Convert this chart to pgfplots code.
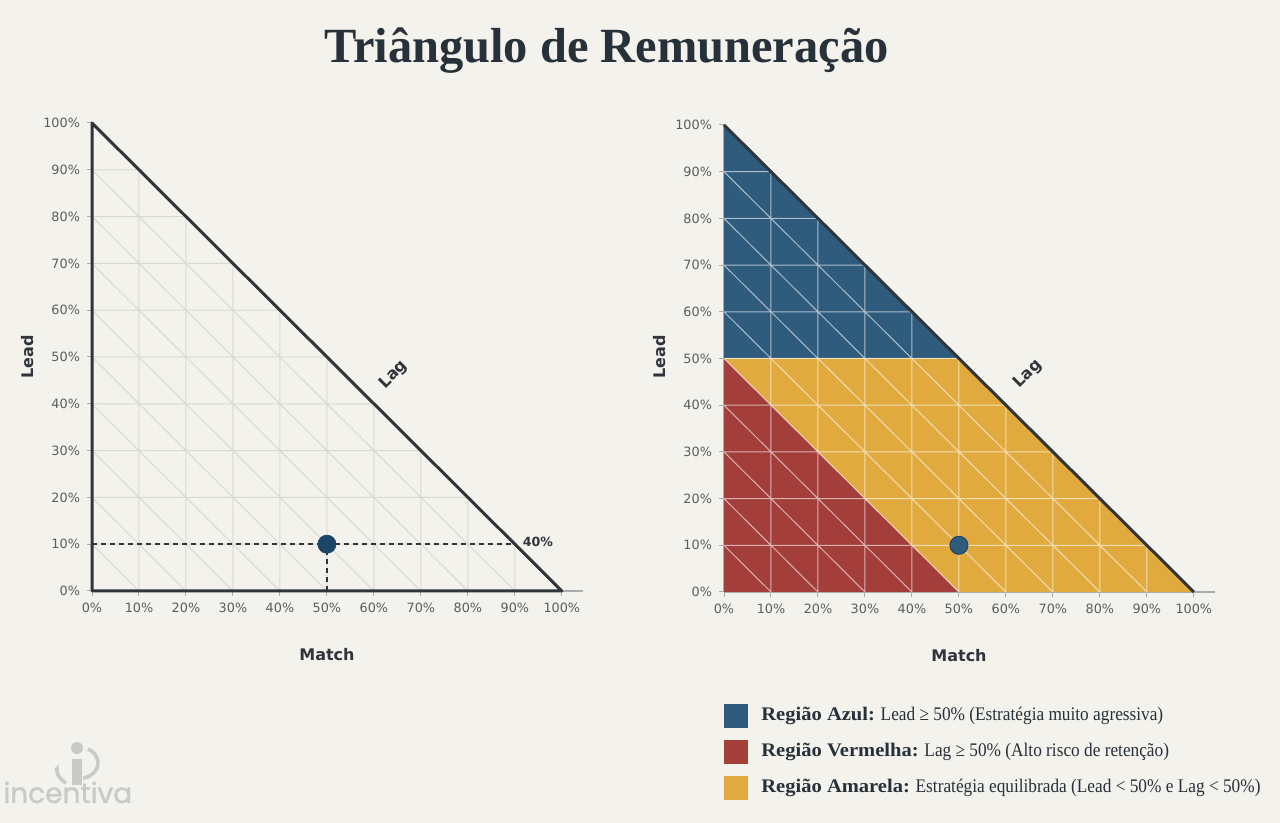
\documentclass[border=0pt]{standalone}
\usepackage{pgfplots}
\pgfplotsset{compat=1.18}
\usepackage{pgfplotstable}
\usetikzlibrary{arrows.meta}
\usepackage{fontspec}
\setmainfont{Liberation Serif}
\newfontfamily\sansf{DejaVu Sans}
\newfontfamily\logof[FakeBold=1.2]{Poppins}
\newfontfamily\titlef[FakeStretch=0.985]{Liberation Serif}
\newfontfamily\legreg[FakeStretch=0.9]{Liberation Serif}
\newfontfamily\legbold[FakeStretch=1.07]{Liberation Serif}
\definecolor{bg}{HTML}{F3F2EC}
\definecolor{darkline}{HTML}{2F353B}
\definecolor{gridgray}{HTML}{D9D9D3}
\definecolor{axisgray}{HTML}{A9ABAD}
\definecolor{tickgray}{HTML}{5A5E62}
\definecolor{azul}{HTML}{2F5B7C}
\definecolor{vermelho}{HTML}{A33E3B}
\definecolor{amarelo}{HTML}{E1AA3F}
\definecolor{dotc}{HTML}{1D4567}
\definecolor{titlec}{HTML}{27313A}
\definecolor{logoc}{HTML}{C9C9C6}

\pgfplotstableread[row sep=\\]{
x y\\
0 10\\ 90 10\\ nan nan\\
0 20\\ 80 20\\ nan nan\\
0 30\\ 70 30\\ nan nan\\
0 40\\ 60 40\\ nan nan\\
0 50\\ 50 50\\ nan nan\\
0 60\\ 40 60\\ nan nan\\
0 70\\ 30 70\\ nan nan\\
0 80\\ 20 80\\ nan nan\\
0 90\\ 10 90\\ nan nan\\
10 0\\ 10 90\\ nan nan\\
20 0\\ 20 80\\ nan nan\\
30 0\\ 30 70\\ nan nan\\
40 0\\ 40 60\\ nan nan\\
50 0\\ 50 50\\ nan nan\\
60 0\\ 60 40\\ nan nan\\
70 0\\ 70 30\\ nan nan\\
80 0\\ 80 20\\ nan nan\\
90 0\\ 90 10\\ nan nan\\
0 10\\ 10 0\\ nan nan\\
0 20\\ 20 0\\ nan nan\\
0 30\\ 30 0\\ nan nan\\
0 40\\ 40 0\\ nan nan\\
0 50\\ 50 0\\ nan nan\\
0 60\\ 60 0\\ nan nan\\
0 70\\ 70 0\\ nan nan\\
0 80\\ 80 0\\ nan nan\\
0 90\\ 90 0\\
}\gridtab

\pgfplotsset{tri/.style={
  scale only axis, width=245.5pt,
  xmin=0, xmax=104.5, ymin=0, ymax=100,
  axis x line=bottom, axis y line=left,
  axis line style={-, draw=axisgray, line width=0.6pt},
  xtick={0,10,...,100}, ytick={0,10,...,100},
  xticklabels={0\%,10\%,20\%,30\%,40\%,50\%,60\%,70\%,80\%,90\%,100\%},
  yticklabels={0\%,10\%,20\%,30\%,40\%,50\%,60\%,70\%,80\%,90\%,100\%},
  tick align=outside, major tick length=2.5pt,
  tick style={draw=axisgray, line width=0.5pt},
  tick label style={font=\sansf\fontsize{6.4}{7}\selectfont, text=tickgray},
  clip=false, unbounded coords=jump,
}}

\begin{document}
\begin{tikzpicture}
\fill[bg] (0,0) rectangle (640pt,411.5pt);
\useasboundingbox (0,0) rectangle (640pt,411.5pt);

% title
\node[anchor=base, font=\titlef\bfseries\fontsize{24.6}{30}\selectfont, text=titlec] at (303.25pt,380pt) {Triângulo de Remuneração};

% left chart
\begin{axis}[tri, height=234pt, at={(46pt,116pt)}, anchor=south west]
\addplot[draw=gridgray, line width=0.5pt] table {\gridtab};
\addplot[draw=darkline, line width=0.75pt, dash pattern=on 2.5pt off 2pt] coordinates {(0,10) (90,10)};
\addplot[draw=darkline, line width=0.75pt, dash pattern=on 2.5pt off 2pt] coordinates {(50,0) (50,10)};
\addplot[draw=darkline, line width=1.5pt, line join=round] coordinates {(0,0) (0,100) (100,0)} -- cycle;
\addplot[only marks, mark=*, mark size=4.5pt, mark options={fill=dotc, draw=dotc}] coordinates {(50,10)};
\node[anchor=west, font=\sansf\bfseries\fontsize{6.3}{7}\selectfont, text=darkline, inner sep=0pt] at (axis cs:91.6,10.4) {40\%};
\node[rotate=45, font=\sansf\bfseries\fontsize{8}{9}\selectfont, text=darkline] at (axis cs:64.2,46.2) {Lag};
\end{axis}

% right chart
\begin{axis}[tri, height=233.5pt, at={(362pt,115.5pt)}, anchor=south west,
  legend style={at={(0,-0.238)}, anchor=north west, draw=none, fill=none,
    font=\legreg\fontsize{9.6}{11}\selectfont, text=titlec, row sep=6pt, column sep=3pt, inner sep=0pt,
    nodes={inner sep=0pt, inner xsep=3.5pt}},
  legend cell align=left,
  legend image code/.code={\fill[#1] (0pt,-6pt) rectangle (12pt,6pt);}]
\addplot[fill=azul, draw=none] coordinates {(0,50) (0,100) (50,50)} -- cycle;
\addlegendentry{{\legbold\bfseries Região Azul:} Lead ≥ 50\% (Estratégia muito agressiva)}
\addplot[fill=vermelho, draw=none] coordinates {(0,0) (0,50) (50,0)} -- cycle;
\addlegendentry{{\legbold\bfseries Região Vermelha:} Lag ≥ 50\% (Alto risco de retenção)}
\addplot[fill=amarelo, draw=none] coordinates {(0,50) (50,50) (100,0) (50,0)} -- cycle;
\addlegendentry{{\legbold\bfseries Região Amarela:} Estratégia equilibrada (Lead < 50\% e Lag < 50\%)}
\addplot[forget plot, draw=white, draw opacity=0.6, line width=0.5pt] table {\gridtab};
\addplot[forget plot, draw=darkline, line width=1.5pt] coordinates {(0,100) (100,0)};
\addplot[forget plot, only marks, mark=*, mark size=4.5pt, mark options={fill=azul, draw=dotc, line width=0.5pt}] coordinates {(50,10)};
\node[rotate=45, font=\sansf\bfseries\fontsize{8}{9}\selectfont, text=darkline] at (axis cs:64.7,46.7) {Lag};
\end{axis}

% axis titles
\node[rotate=90, font=\sansf\bfseries\fontsize{8}{9}\selectfont, text=darkline] at (14pt,233pt) {Lead};
\node[rotate=90, font=\sansf\bfseries\fontsize{8}{9}\selectfont, text=darkline] at (330pt,233pt) {Lead};
\node[font=\sansf\bfseries\fontsize{8}{9}\selectfont, text=darkline] at (163.5pt,84pt) {Match};
\node[font=\sansf\bfseries\fontsize{8}{9}\selectfont, text=darkline] at (479.5pt,83.5pt) {Match};

% logo
\node[anchor=base west, font=\logof\fontsize{14}{16}\selectfont, text=logoc, inner sep=0pt] at (1.5pt,10pt) {incentiva};
\fill[logoc] (38.5pt,37.5pt) circle (3pt);
\fill[logoc] (36pt,19pt) rectangle (41pt,32pt);
\draw[logoc, line width=1.8pt, -{Stealth[length=3pt]}] (33pt,20pt) arc[start angle=235, end angle=160, x radius=10pt, y radius=8pt];
\draw[logoc, line width=1.8pt] (44pt,37pt) arc[start angle=60, end angle=-75, x radius=10pt, y radius=8pt];
\end{tikzpicture}
\end{document}
